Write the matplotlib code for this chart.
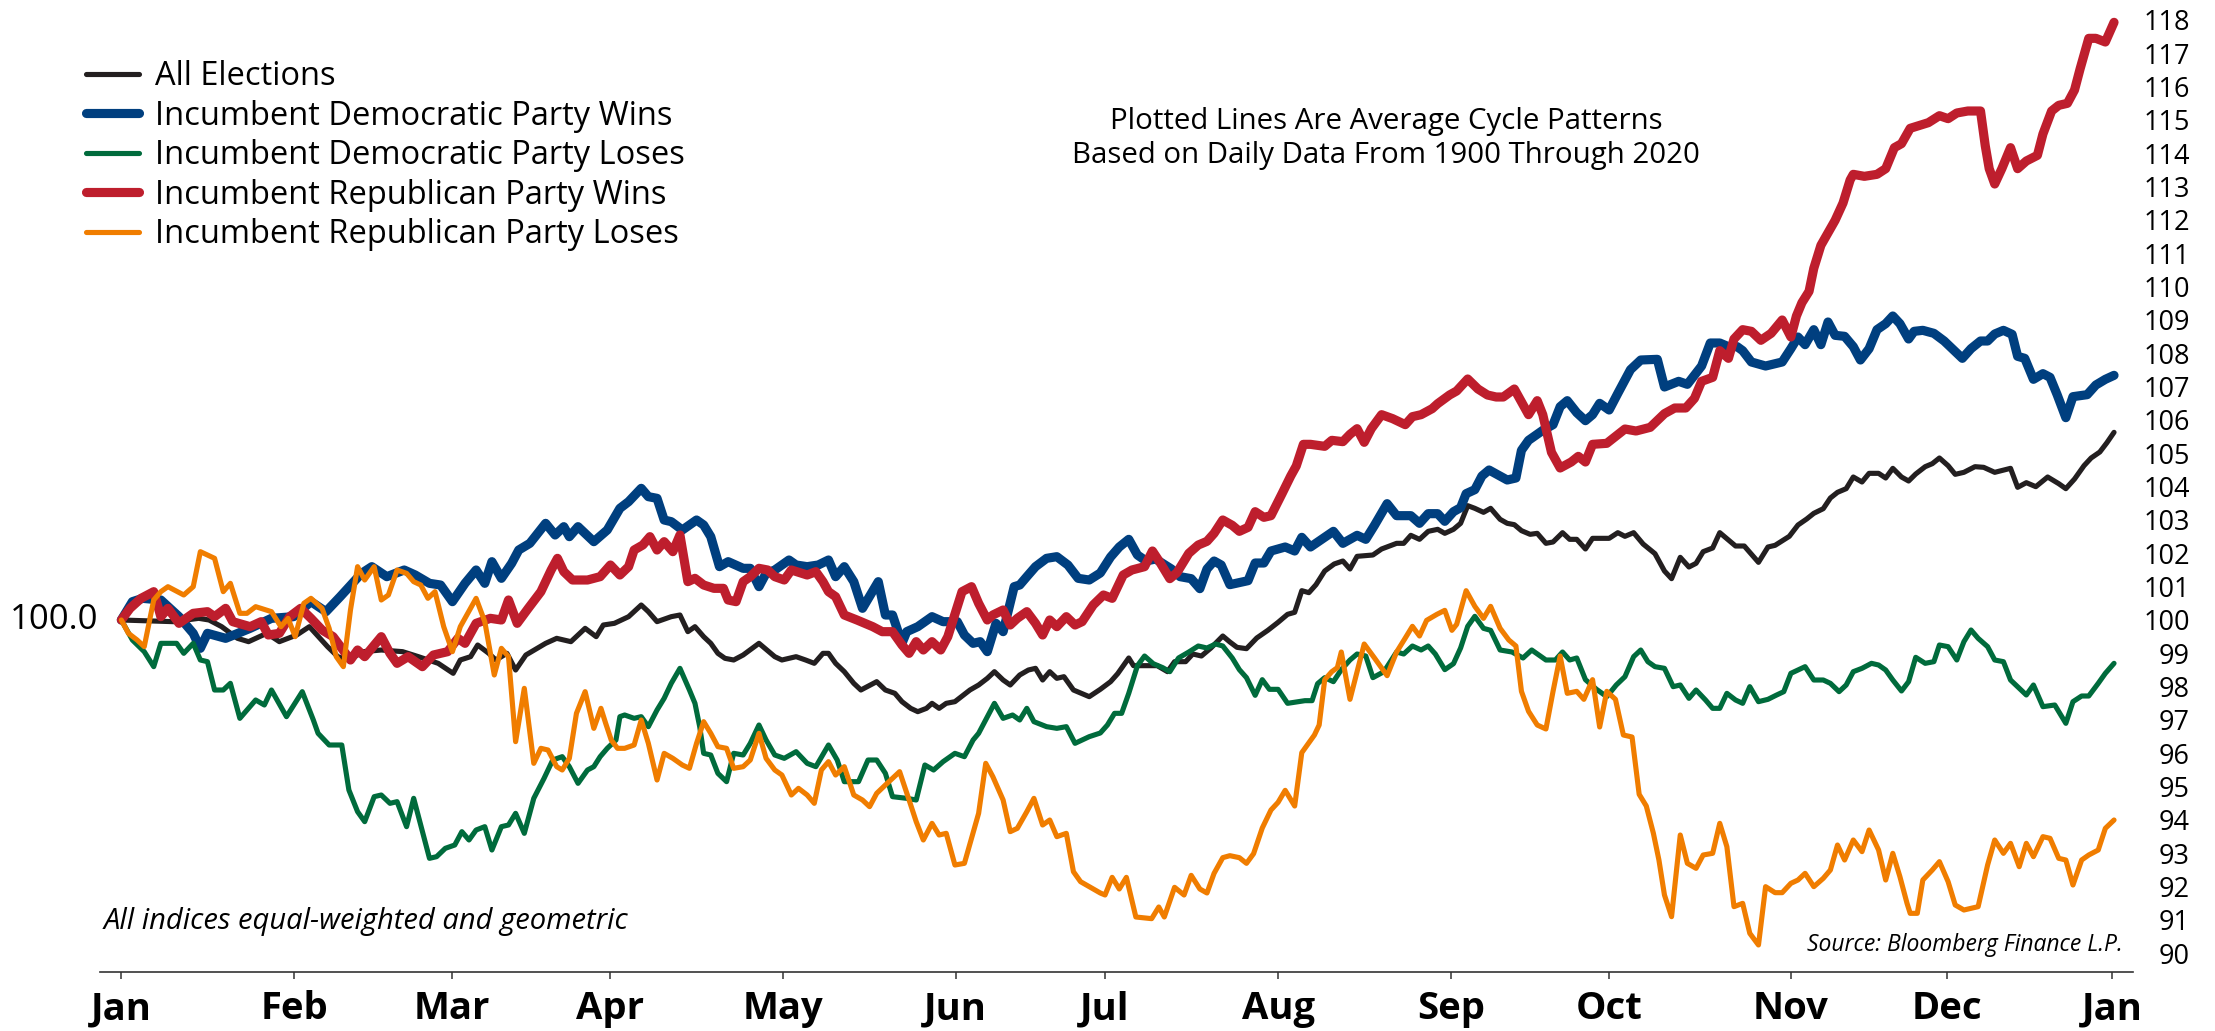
import matplotlib
matplotlib.use("Agg")
import matplotlib.pyplot as plt
import matplotlib.transforms as mtransforms

plt.rcParams['font.family'] = ['Open Sans', 'DejaVu Sans']

# Data: trading-day index (0 = first trading day of Jan) and index level (start = 100)

months = ['Jan', 'Feb', 'Mar', 'Apr', 'May', 'Jun', 'Jul', 'Aug', 'Sep', 'Oct', 'Nov', 'Dec', 'Jan']
month_day = [0, 21.9, 41.8, 61.8, 83.7, 105.6, 124.5, 146.4, 168.3, 188.3, 211.3, 231.1, 252.0]

labels = ['All Elections', 'Incumbent Democratic Party Wins', 'Incumbent Democratic Party Loses',
          'Incumbent Republican Party Wins', 'Incumbent Republican Party Loses']

all_day = [0, 2.7, 6.6, 9.8, 11.1, 12.7, 14.7, 16.1, 18.4, 20.0, 22.2, 23.8, 26.1, 27.4, 28.8, 30.6, 32.9,
           35.6, 37.6, 40.1, 42.0, 42.9, 44.2, 45.1, 46.5, 47.4, 48.8, 49.9, 51.2, 53.7, 55.1, 56.9, 58.7,
           60.1, 61.0, 62.4, 64.2, 65.8, 66.7, 67.8, 69.6, 70.7, 71.7, 72.6, 73.7, 74.6, 75.5, 76.4, 77.5,
           78.7, 80.7, 82.7, 83.6, 85.4, 86.6, 87.7, 88.8, 89.5, 90.4, 91.5, 92.7, 93.6, 95.6, 96.7, 97.9,
           98.8, 99.9, 100.8, 101.9, 102.6, 103.5, 104.4, 105.5, 107.4, 108.5, 109.6, 110.5, 111.6, 112.5,
           113.7, 114.8, 115.7, 116.6, 117.5, 118.4, 119.3, 120.5, 122.5, 123.9, 125.2, 126.1, 127.5, 128.1,
           131.1, 132.4, 133.3, 134.7, 135.6, 136.7, 137.9, 139.4, 140.3, 141.2, 142.4, 143.7, 145.1, 146.4,
           147.6, 148.5, 149.4, 150.3, 151.2, 152.3, 153.5, 154.6, 155.5, 156.4, 158.4, 159.5, 161.4, 162.3,
           163.2, 164.3, 165.4, 166.6, 167.5, 168.6, 169.5, 170.4, 171.3, 172.4, 173.3, 174.5, 175.4, 176.3,
           177.2, 178.3, 179.2, 180.3, 181.2, 182.4, 183.3, 184.2, 185.3, 186.2, 188.3, 189.4, 190.3, 191.4,
           192.6, 194.1, 195.3, 196.2, 197.3, 198.4, 199.3, 200.2, 201.4, 202.3, 204.3, 205.4, 207.2, 208.4,
           209.3, 211.1, 212.2, 213.3, 214.2, 215.4, 216.3, 217.2, 218.3, 219.2, 220.3, 221.2, 222.4, 223.3,
           224.2, 225.3, 226.2, 227.1, 228.3, 229.2, 230.1, 231.2, 232.1, 233.2, 234.6, 235.7, 237.1, 239.1,
           240.0, 241.1, 242.3, 243.8, 245.2, 246.1, 247.2, 248.4, 249.3, 250.4, 251.3, 252.2]
all_val = [100.0, 99.98, 99.95, 100.05, 100.0, 99.8, 99.45, 99.35, 99.6, 99.35, 99.55, 99.8, 99.2, 98.9, 98.8,
           99.05, 99.1, 99.05, 98.9, 98.7, 98.4, 98.8, 98.9, 99.25, 99.0, 98.8, 99.0, 98.5, 98.95, 99.3, 99.45,
           99.35, 99.75, 99.5, 99.85, 99.9, 100.1, 100.45, 100.25, 99.95, 100.1, 100.15, 99.65, 99.8, 99.5,
           99.3, 99.0, 98.85, 98.8, 98.95, 99.3, 98.9, 98.8, 98.9, 98.8, 98.7, 99.0, 99.0, 98.7, 98.45, 98.1,
           97.9, 98.15, 97.9, 97.8, 97.55, 97.35, 97.25, 97.35, 97.5, 97.35, 97.5, 97.55, 97.9, 98.05, 98.25,
           98.45, 98.2, 98.05, 98.35, 98.5, 98.55, 98.2, 98.45, 98.25, 98.3, 97.9, 97.7, 97.92, 98.15, 98.39,
           98.86, 98.63, 98.63, 98.45, 98.75, 98.75, 98.98, 98.92, 99.16, 99.52, 99.34, 99.18, 99.14, 99.46,
           99.69, 99.93, 100.17, 100.23, 100.88, 100.82, 101.06, 101.47, 101.68, 101.77, 101.53, 101.91,
           101.95, 102.13, 102.3, 102.3, 102.54, 102.42, 102.66, 102.72, 102.6, 102.72, 102.9, 103.43,
           103.35, 103.23, 103.35, 103.02, 102.9, 102.86, 102.68, 102.57, 102.6, 102.3, 102.34, 102.62,
           102.42, 102.42, 102.13, 102.45, 102.45, 102.62, 102.51, 102.62, 102.28, 101.99, 101.47, 101.24,
           101.88, 101.59, 101.7, 102.05, 102.16, 102.62, 102.22, 102.22, 101.73, 102.19, 102.24, 102.51,
           102.85, 103.03, 103.2, 103.34, 103.66, 103.83, 103.94, 104.29, 104.14, 104.4, 104.4, 104.26,
           104.55, 104.29, 104.17, 104.38, 104.6, 104.69, 104.86, 104.63, 104.37, 104.43, 104.6, 104.58,
           104.43, 104.55, 103.98, 104.12, 104.0, 104.29, 104.09, 103.94, 104.23, 104.63, 104.86, 105.04,
           105.32, 105.63]

dw_day = [0, 1.4, 2.7, 5.0, 7.3, 9.1, 10.0, 10.9, 13.2, 16.3, 19.0, 21.8, 24.0, 25.9, 27.7, 30.4, 31.7, 33.6,
          35.8, 37.2, 39.0, 40.4, 41.9, 43.5, 44.9, 46.0, 46.9, 48.1, 49.4, 50.3, 51.7, 53.7, 54.9, 56.0,
          56.7, 57.8, 59.8, 61.5, 63.1, 64.2, 65.8, 66.7, 67.8, 68.7, 69.6, 71.0, 72.8, 73.7, 74.6, 75.7,
          76.8, 78.7, 79.6, 80.7, 81.6, 82.7, 84.5, 85.4, 86.8, 88.2, 89.5, 90.4, 91.5, 92.7, 93.8, 95.8,
          96.7, 97.6, 98.8, 99.4, 100.8, 102.6, 104.0, 105.8, 106.7, 107.8, 108.7, 109.6, 110.7, 111.6,
          113.0, 113.7, 114.6, 115.7, 117.1, 118.4, 119.8, 121.1, 122.5, 123.9, 125.2, 126.3, 127.5, 128.6,
          129.7, 130.9, 132.9, 134.0, 135.4, 136.5, 137.4, 138.3, 139.2, 140.3, 142.6, 143.5, 144.6, 145.5,
          147.3, 148.5, 149.4, 150.5, 153.4, 154.6, 156.4, 157.5, 158.6, 160.2, 161.4, 163.2, 164.3, 165.4,
          166.6, 167.5, 168.6, 169.5, 170.2, 171.3, 172.2, 173.1, 175.4, 176.5, 177.2, 178.1, 179.9, 181.2,
          182.1, 183.0, 184.2, 185.3, 186.2, 187.1, 188.3, 189.4, 191.0, 192.3, 194.4, 195.3, 197.1, 198.2,
          200.0, 201.1, 202.3, 203.4, 204.5, 205.2, 206.3, 208.1, 210.2, 211.3, 212.2, 213.1, 214.2, 215.1,
          216.0, 216.9, 218.1, 219.2, 220.1, 221.2, 222.2, 223.3, 224.2, 225.1, 226.2, 226.9, 228.0, 229.4,
          230.7, 233.0, 234.1, 235.3, 236.2, 237.1, 238.2, 239.3, 240.0, 240.9, 242.0, 243.2, 244.1, 245.0,
          246.1, 247.0, 248.8, 249.9, 251.1, 252.2]
dw_val = [100.0, 100.55, 100.65, 100.6, 100.1, 99.6, 99.15, 99.6, 99.45, 99.75, 100.05, 100.1, 100.55, 100.25,
          100.7, 101.4, 101.6, 101.3, 101.5, 101.35, 101.1, 101.05, 100.55, 101.1, 101.5, 101.1, 101.75,
          101.25, 101.7, 102.1, 102.3, 102.9, 102.55, 102.8, 102.5, 102.8, 102.35, 102.7, 103.35, 103.55,
          103.95, 103.7, 103.65, 103.0, 102.95, 102.7, 103.0, 102.85, 102.5, 101.6, 101.75, 101.55, 101.55,
          101.0, 101.4, 101.5, 101.8, 101.65, 101.6, 101.65, 101.8, 101.3, 101.6, 101.15, 100.35, 101.15,
          100.15, 100.15, 99.3, 99.65, 99.8, 100.1, 99.95, 99.95, 99.55, 99.3, 99.35, 99.05, 99.9, 99.65,
          101.0, 101.05, 101.3, 101.6, 101.85, 101.9, 101.65, 101.25, 101.2, 101.41, 101.89, 102.19, 102.42,
          101.95, 101.77, 101.83, 101.53, 101.3, 101.24, 100.94, 101.53, 101.77, 101.65, 101.06, 101.18,
          101.71, 101.71, 102.07, 102.19, 102.07, 102.48, 102.19, 102.66, 102.3, 102.54, 102.42, 102.84,
          103.49, 103.13, 103.13, 102.9, 103.19, 103.19, 102.96, 103.25, 103.37, 103.79, 103.91, 104.32,
          104.5, 104.2, 104.26, 105.09, 105.39, 105.69, 105.86, 106.4, 106.58, 106.22, 105.98, 106.16,
          106.5, 106.3, 106.8, 107.51, 107.8, 107.82, 106.99, 107.16, 107.07, 107.62, 108.31, 108.31, 108.2,
          108.2, 108.08, 107.74, 107.62, 107.74, 108.14, 108.49, 108.26, 108.71, 108.26, 108.94, 108.54,
          108.51, 108.2, 107.8, 108.14, 108.71, 108.89, 109.12, 108.89, 108.43, 108.66, 108.69, 108.6,
          108.37, 107.85, 108.14, 108.37, 108.37, 108.58, 108.69, 108.57, 107.91, 107.85, 107.22, 107.39,
          107.28, 106.76, 106.07, 106.7, 106.76, 107.05, 107.22, 107.34]

dl_day = [0, 1.4, 2.9, 4.1, 5.0, 7.0, 7.9, 9.1, 10.0, 10.9, 11.8, 12.9, 13.8, 15.0, 17.0, 18.1, 19.0, 20.9,
          22.9, 24.3, 24.9, 26.3, 27.9, 28.8, 29.9, 30.8, 32.0, 32.9, 34.0, 34.9, 36.1, 37.0, 39.0, 39.9,
          41.0, 42.2, 43.1, 44.0, 44.9, 46.0, 46.9, 48.1, 49.0, 49.9, 51.0, 52.2, 53.5, 54.6, 55.8, 56.7,
          57.8, 59.0, 59.8, 60.6, 61.5, 62.6, 63.1, 63.7, 64.9, 65.8, 66.7, 67.8, 68.7, 69.6, 70.7, 71.9,
          72.6, 73.2, 73.7, 74.6, 75.5, 76.6, 77.5, 78.7, 79.6, 80.7, 81.6, 82.7, 83.9, 85.4, 86.8, 87.9,
          89.5, 90.6, 91.5, 93.3, 94.5, 95.6, 96.7, 97.6, 99.4, 100.6, 101.7, 102.8, 104.0, 105.5, 106.7,
          107.8, 108.5, 110.5, 111.6, 112.8, 113.7, 114.6, 115.5, 117.1, 118.4, 119.6, 120.7, 122.5, 123.9,
          124.8, 125.7, 126.6, 127.5, 128.6, 129.5, 130.6, 131.8, 132.7, 133.8, 135.1, 136.3, 137.4, 138.5,
          139.4, 140.6, 141.5, 142.4, 143.5, 144.4, 145.3, 146.4, 147.6, 149.8, 150.7, 151.4, 152.3, 153.4,
          154.4, 155.5, 156.4, 157.5, 158.4, 159.8, 161.4, 162.3, 163.4, 164.5, 165.4, 166.3, 167.5, 168.6,
          169.5, 170.4, 171.3, 172.4, 173.3, 174.5, 176.0, 177.4, 178.5, 180.3, 181.5, 182.4, 183.3, 184.2,
          185.3, 186.7, 188.0, 189.2, 190.3, 191.4, 192.3, 193.2, 194.1, 195.3, 196.4, 197.3, 198.4, 199.3,
          200.5, 201.4, 202.3, 203.2, 204.3, 205.2, 206.1, 207.2, 208.4, 209.5, 210.4, 211.3, 213.1, 214.2,
          215.4, 216.3, 217.4, 218.3, 219.2, 220.3, 221.5, 222.4, 223.3, 224.2, 225.3, 226.2, 227.1, 228.3,
          229.4, 230.1, 231.2, 232.3, 233.2, 234.1, 235.0, 236.2, 237.1, 238.2, 239.1, 240.2, 241.1, 242.0,
          243.2, 244.7, 246.1, 247.0, 248.1, 249.0, 250.2, 251.1, 252.2]
dl_val = [100.0, 99.4, 99.05, 98.6, 99.3, 99.3, 99.0, 99.3, 98.8, 98.75, 97.9, 97.9, 98.1, 97.05, 97.6, 97.45,
          97.9, 97.1, 97.85, 97.0, 96.6, 96.25, 96.25, 94.9, 94.25, 93.95, 94.7, 94.75, 94.5, 94.55, 93.8,
          94.65, 92.85, 92.9, 93.15, 93.25, 93.65, 93.4, 93.7, 93.8, 93.1, 93.8, 93.85, 94.2, 93.6, 94.65,
          95.25, 95.8, 95.9, 95.6, 95.1, 95.5, 95.6, 95.9, 96.15, 96.4, 97.1, 97.15, 97.05, 97.1, 96.8, 97.3,
          97.65, 98.1, 98.55, 97.9, 97.5, 96.8, 96.0, 95.95, 95.4, 95.15, 96.0, 95.95, 96.3, 96.85, 96.4,
          95.95, 95.85, 96.05, 95.7, 95.6, 96.25, 95.8, 95.15, 95.15, 95.8, 95.8, 95.4, 94.7, 94.65, 94.6,
          95.65, 95.5, 95.75, 96.0, 95.9, 96.4, 96.6, 97.5, 97.05, 97.15, 97.0, 97.35, 96.95, 96.8, 96.75,
          96.8, 96.3, 96.5, 96.61, 96.85, 97.2, 97.2, 97.8, 98.63, 98.92, 98.69, 98.57, 98.45, 98.86, 99.04,
          99.22, 99.16, 99.28, 99.22, 98.86, 98.51, 98.27, 97.74, 98.21, 97.92, 97.92, 97.5, 97.58, 97.58,
          98.09, 98.27, 98.15, 98.51, 98.8, 98.98, 98.92, 98.27, 98.45, 99.04, 98.98, 99.22, 99.1, 99.22,
          98.98, 98.51, 98.69, 99.16, 99.81, 100.11, 99.75, 99.69, 99.1, 99.04, 98.86, 99.1, 98.8, 98.8,
          99.04, 98.8, 98.86, 98.21, 97.92, 97.7, 98.05, 98.3, 98.9, 99.1, 98.75, 98.6, 98.55, 98.0, 98.05,
          97.65, 97.9, 97.6, 97.35, 97.35, 97.8, 97.6, 97.5, 98.0, 97.55, 97.62, 97.75, 97.85, 98.4, 98.6,
          98.2, 98.2, 98.1, 97.85, 98.05, 98.45, 98.55, 98.7, 98.65, 98.5, 98.2, 97.87, 98.15, 98.88, 98.7,
          98.75, 99.25, 99.2, 98.8, 99.35, 99.7, 99.45, 99.2, 98.8, 98.75, 98.2, 97.95, 97.75, 98.05, 97.4,
          97.45, 96.9, 97.55, 97.72, 97.72, 98.1, 98.4, 98.7]

rw_day = [0, 1.1, 2.5, 4.1, 5.0, 5.9, 7.3, 9.1, 10.9, 11.8, 13.2, 14.1, 16.3, 17.7, 18.6, 20.0, 21.3, 22.7,
          24.0, 25.4, 26.8, 29.0, 29.9, 30.8, 32.9, 34.0, 34.9, 36.3, 38.1, 39.5, 41.3, 42.6, 43.5, 44.9,
          46.7, 48.1, 49.0, 50.1, 51.5, 53.1, 54.4, 55.2, 56.0, 57.1, 59.0, 60.6, 61.9, 63.1, 64.2, 64.9,
          66.0, 66.9, 67.8, 68.7, 69.8, 70.7, 71.7, 72.6, 73.7, 75.0, 76.2, 76.8, 77.8, 78.7, 79.6, 80.7,
          81.8, 82.7, 83.9, 84.8, 86.8, 87.9, 88.8, 89.5, 90.4, 91.5, 93.1, 95.1, 96.3, 97.6, 98.8, 99.7,
          100.6, 101.5, 102.6, 103.7, 104.6, 106.4, 107.6, 108.5, 109.6, 110.3, 111.6, 112.5, 113.4, 114.6,
          115.7, 116.6, 117.5, 118.4, 119.6, 120.7, 121.6, 123.0, 124.3, 125.4, 126.8, 127.9, 129.5, 130.5,
          131.5, 132.7, 133.6, 135.1, 136.3, 137.4, 138.3, 139.4, 140.6, 141.5, 142.6, 143.5, 144.6, 145.5,
          146.9, 148.0, 148.7, 149.6, 150.5, 152.3, 153.2, 154.6, 155.5, 156.4, 157.3, 158.2, 159.5, 160.9,
          162.5, 163.4, 164.5, 165.9, 166.6, 168.1, 169.0, 170.4, 171.7, 172.9, 174.0, 174.9, 176.3, 178.1,
          179.2, 179.9, 181.0, 182.1, 183.5, 184.4, 185.3, 186.2, 188.0, 190.3, 191.7, 193.5, 195.3, 196.6,
          198.0, 199.1, 200.0, 201.4, 202.3, 203.4, 204.1, 205.2, 206.3, 207.5, 208.8, 210.2, 211.3, 212.0,
          212.7, 213.6, 214.2, 215.1, 216.9, 217.9, 218.8, 219.2, 220.6, 222.2, 223.3, 224.4, 225.3, 226.4,
          228.7, 230.1, 231.2, 232.3, 233.7, 235.3, 235.9, 236.4, 237.1, 238.0, 239.1, 240.0, 241.1, 242.5,
          243.2, 244.3, 245.2, 246.3, 247.2, 247.9, 249.0, 249.9, 251.1, 252.2]
rw_val = [100.0, 100.35, 100.65, 100.85, 100.1, 100.35, 99.9, 100.2, 100.25, 100.1, 100.35, 99.95, 99.8,
          99.95, 99.55, 99.6, 100.1, 100.35, 100.05, 99.7, 99.5, 98.8, 99.1, 98.9, 99.5, 99.0, 98.7, 98.9,
          98.6, 98.95, 99.05, 99.45, 99.3, 99.9, 100.05, 100.0, 100.6, 99.9, 100.35, 100.85, 101.5, 101.85,
          101.45, 101.2, 101.2, 101.3, 101.65, 101.35, 101.6, 102.1, 102.25, 102.5, 102.1, 102.35, 102.05,
          102.55, 101.15, 101.25, 101.05, 100.95, 100.95, 100.6, 100.55, 101.15, 101.3, 101.55, 101.5,
          101.3, 101.2, 101.5, 101.35, 101.45, 101.15, 100.85, 100.7, 100.15, 100.0, 99.8, 99.65, 99.65,
          99.25, 99.0, 99.35, 99.1, 99.35, 99.1, 99.5, 100.85, 101.0, 100.5, 100.0, 100.15, 100.3, 99.85,
          100.05, 100.25, 99.9, 99.55, 100.0, 99.8, 100.1, 99.85, 99.95, 100.45, 100.75, 100.65, 101.35,
          101.5, 101.6, 102.07, 101.71, 101.24, 101.42, 102.0, 102.25, 102.36, 102.6, 103.0, 102.84, 102.66,
          102.78, 103.25, 103.08, 103.13, 103.79, 104.32, 104.62, 105.27, 105.27, 105.21, 105.39, 105.35,
          105.57, 105.74, 105.33, 105.74, 106.16, 106.04, 105.86, 106.1, 106.16, 106.34, 106.49, 106.75,
          106.87, 107.23, 106.93, 106.75, 106.69, 106.69, 106.93, 106.16, 106.58, 106.16, 105.03, 104.56,
          104.74, 104.91, 104.74, 105.27, 105.3, 105.73, 105.67, 105.78, 106.19, 106.36, 106.36, 106.65,
          107.16, 107.28, 108.08, 107.85, 108.43, 108.71, 108.66, 108.39, 108.6, 109.0, 108.49, 109.12,
          109.52, 109.86, 110.55, 111.24, 111.99, 112.51, 113.2, 113.37, 113.31, 113.37, 113.54, 114.17,
          114.29, 114.75, 114.92, 115.13, 115.04, 115.21, 115.27, 115.27, 114.23, 113.54, 113.08, 113.54,
          114.17, 113.54, 113.77, 113.94, 114.58, 115.27, 115.44, 115.5, 115.9, 116.53, 117.45, 117.45,
          117.34, 117.93]

rl_day = [0, 0.9, 2.0, 2.9, 4.1, 5.0, 5.9, 7.9, 9.1, 10.0, 11.8, 12.9, 13.8, 15.0, 15.9, 17.0, 19.0, 20.2,
          21.1, 22.0, 23.1, 24.0, 25.4, 26.3, 27.2, 28.1, 29.0, 29.9, 30.8, 32.0, 32.9, 33.8, 34.9, 36.1,
          37.0, 37.9, 38.8, 39.7, 40.8, 41.9, 42.9, 44.9, 46.0, 47.2, 48.1, 49.0, 49.9, 51.0, 52.2, 53.1,
          54.0, 55.1, 55.8, 56.7, 57.6, 58.7, 59.8, 60.7, 61.3, 62.0, 62.8, 63.7, 64.9, 65.8, 66.7, 67.8,
          68.7, 69.8, 71.0, 71.9, 72.8, 73.7, 74.6, 75.5, 76.6, 77.5, 78.7, 79.6, 80.7, 81.6, 82.7, 83.6,
          84.8, 85.7, 86.8, 87.7, 88.6, 89.5, 90.4, 91.5, 92.7, 93.8, 94.7, 95.6, 96.7, 98.5, 99.7, 100.6,
          101.5, 102.6, 103.5, 104.4, 105.5, 106.7, 108.5, 109.4, 110.3, 111.6, 112.5, 113.4, 114.6, 115.5,
          116.6, 117.5, 118.4, 119.6, 120.5, 121.4, 123.9, 124.5, 125.4, 126.3, 127.2, 128.4, 130.4, 131.3,
          132.0, 133.3, 134.5, 135.4, 136.5, 137.4, 138.3, 139.4, 140.3, 141.5, 142.4, 143.3, 144.4, 145.5,
          146.4, 147.3, 148.5, 149.4, 150.1, 151.0, 151.6, 152.3, 153.2, 153.9, 154.4, 155.5, 156.4, 157.3,
          158.6, 160.2, 161.4, 162.5, 163.4, 164.3, 165.2, 166.5, 167.5, 168.4, 169.0, 170.2, 171.3, 172.4,
          173.3, 174.5, 175.6, 176.5, 177.2, 178.1, 179.2, 180.3, 181.2, 182.1, 183.0, 184.2, 185.1, 186.2,
          187.1, 188.0, 189.1, 190.1, 191.2, 192.1, 193.0, 193.9, 194.6, 195.3, 196.2, 197.3, 198.2, 199.3,
          200.2, 201.4, 202.3, 203.2, 204.1, 205.2, 206.1, 207.2, 208.1, 209.3, 210.2, 211.3, 212.2, 213.1,
          214.2, 215.4, 216.3, 217.2, 218.1, 219.2, 220.3, 221.2, 222.4, 223.3, 224.2, 225.1, 226.0, 226.4,
          227.3, 228.0, 229.2, 230.1, 231.2, 232.1, 233.2, 235.0, 236.2, 237.1, 238.2, 239.1, 240.2, 241.1,
          242.0, 243.2, 244.1, 245.2, 246.1, 247.0, 248.1, 249.0, 250.2, 251.1, 252.2]
rl_val = [100.0, 99.6, 99.4, 99.2, 100.6, 100.85, 101.0, 100.75, 101.0, 102.05, 101.85, 100.85, 101.1, 100.2,
          100.2, 100.4, 100.25, 99.8, 100.05, 99.5, 100.5, 100.65, 100.35, 99.75, 98.9, 98.6, 100.3, 101.6,
          101.2, 101.6, 100.6, 100.75, 101.5, 101.4, 101.15, 101.05, 100.65, 100.85, 99.8, 99.05, 99.8,
          100.65, 99.95, 98.35, 99.15, 98.9, 96.35, 97.95, 95.7, 96.15, 96.1, 95.6, 95.5, 95.85, 97.2, 97.85,
          96.75, 97.35, 96.9, 96.4, 96.15, 96.15, 96.25, 97.0, 96.3, 95.2, 96.0, 95.85, 95.65, 95.55, 96.3,
          96.95, 96.6, 96.2, 96.15, 95.55, 95.6, 95.8, 96.6, 95.85, 95.5, 95.35, 94.75, 94.95, 94.75, 94.5,
          95.5, 95.75, 95.35, 95.6, 94.75, 94.6, 94.4, 94.8, 95.05, 95.45, 94.6, 93.95, 93.4, 93.9, 93.55,
          93.6, 92.65, 92.7, 94.2, 95.7, 95.3, 94.6, 93.65, 93.75, 94.25, 94.65, 93.85, 94.0, 93.5, 93.6,
          92.45, 92.15, 91.81, 91.75, 92.28, 91.93, 92.28, 91.09, 91.04, 91.39, 91.09, 91.98, 91.75, 92.34,
          91.93, 91.81, 92.4, 92.87, 92.93, 92.87, 92.7, 92.99, 93.76, 94.3, 94.53, 94.89, 94.42, 96.02,
          96.25, 96.55, 96.85, 98.21, 98.45, 98.57, 99.04, 97.62, 98.45, 99.28, 98.86, 98.33, 99.04, 99.46,
          99.81, 99.52, 99.99, 100.17, 100.29, 99.69, 99.87, 100.88, 100.41, 100.05, 100.41, 99.75, 99.4,
          99.22, 97.86, 97.26, 96.85, 96.73, 97.86, 98.92, 97.8, 97.86, 97.62, 98.21, 96.79, 97.86, 97.62,
          96.55, 96.49, 94.77, 94.42, 93.6, 92.8, 91.75, 91.1, 93.55, 92.7, 92.55, 92.95, 93.0, 93.9, 93.2,
          91.4, 91.5, 90.6, 90.25, 92.0, 91.82, 91.82, 92.1, 92.2, 92.4, 92.0, 92.25, 92.5, 93.25, 92.8,
          93.4, 93.05, 93.7, 93.1, 92.2, 93.0, 92.3, 91.5, 91.2, 91.2, 92.2, 92.5, 92.75, 92.15, 91.45, 91.3,
          91.4, 92.65, 93.4, 93.0, 93.3, 92.6, 93.3, 92.9, 93.5, 93.45, 92.85, 92.8, 92.05, 92.8, 92.95,
          93.1, 93.75, 94.0]

colors = ['#231F20', '#003F7F', '#006B3C', '#BE1E2D', '#F07D00']
widths = [3.7, 6.6, 3.7, 6.6, 3.7]

# Plot

W, H = 2215, 1031
fig = plt.figure(figsize=(W / 100, H / 100), dpi=100)
ax = fig.add_axes([100 / W, 1 - 972 / H, 2033 / W, 968 / H])

series = [(all_day, all_val), (dw_day, dw_val), (dl_day, dl_val), (rw_day, rw_val), (rl_day, rl_val)]
for (d, v), lab, c, lw in zip(series, labels, colors, widths):
    ax.plot(d, v, color=c, lw=lw, label=lab, solid_capstyle='round', solid_joinstyle='round')

ax.set_xlim(-2.7, 254.6)
ax.set_ylim(89.44, 118.48)

for s in ['top', 'left', 'right']:
    ax.spines[s].set_visible(False)
ax.spines['bottom'].set_linewidth(1.2)
ax.spines['bottom'].set_color('#333333')

ax.set_xticks(month_day)
ax.set_xticklabels(months, fontsize=27.5, fontweight='bold')
ax.tick_params(axis='x', length=5, width=1.1, color='#333333', pad=8)

ax.yaxis.tick_right()
ax.set_yticks(range(90, 119))
ax.set_yticklabels([str(t) for t in range(90, 119)], fontsize=19.5)
ax.tick_params(axis='y', length=0, pad=41)
for t in ax.get_yticklabels():
    t.set_horizontalalignment('right')

trans = mtransforms.blended_transform_factory(ax.transAxes, ax.transData)
ax.text(-0.001, 100, '100.0', transform=trans, ha='right', va='center', fontsize=25)

ax.legend(loc='upper left', bbox_to_anchor=(86 / W, 1 - 60 / H), bbox_transform=fig.transFigure,
          frameon=False, fontsize=23.5, handlelength=1.62, handletextpad=0.5, labelspacing=0.2,
          borderpad=0, borderaxespad=0)

fig.text(1386 / W, 1 - 121 / H, 'Plotted Lines Are Average Cycle Patterns', ha='center', va='center', fontsize=21.2)
fig.text(1386 / W, 1 - 155 / H, 'Based on Daily Data From 1900 Through 2020', ha='center', va='center', fontsize=21.2)
fig.text(104 / W, 1 - 921 / H, 'All indices equal-weighted and geometric', ha='left', va='center',
         fontsize=21, style='italic')
fig.text(2123 / W, 1 - 951 / H, 'Source: Bloomberg Finance L.P.', ha='right', va='baseline',
         fontsize=16.5, style='italic')

fig.savefig('out.png', dpi=100)
